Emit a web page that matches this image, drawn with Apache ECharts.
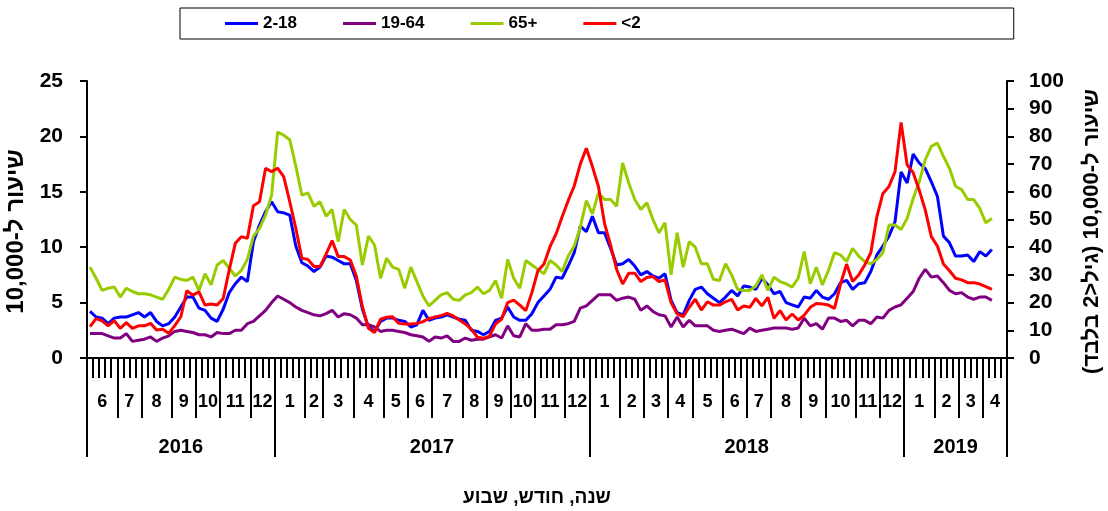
<!DOCTYPE html>
<html>
<head>
<meta charset="utf-8">
<script src="https://cdn.jsdelivr.net/npm/echarts@6.0.0/dist/echarts.min.js"></script>
<style>
  html, body { margin: 0; background: #fff; }
  #chart { width: 1108px; height: 511px; }
</style>
</head>
<body>
<div id="chart"></div>
<script>
const FONT = 'Liberation Sans, Arial, sans-serif'

// x axis: year / month / week
const years = ['2016', '2017', '2018', '2019']
const yearWeeks = [31, 52, 52, 17]
const monthLabels = [6, 7, 8, 9, 10, 11, 12,
  1, 2, 3, 4, 5, 6, 7, 8, 9, 10, 11, 12,
  1, 2, 3, 4, 5, 6, 7, 8, 9, 10, 11, 12,
  1, 2, 3, 4]
const monthWeeks = [5, 4, 5, 4, 4, 5, 4,
  5, 3, 5, 5, 4, 4, 5, 4, 4, 4, 5, 4,
  5, 4, 4, 4, 5, 4, 4, 5, 4, 5, 4, 4,
  5, 4, 4, 4]

const ageGroups = ['2-18', '19-64', '65+', '<2']

// weekly rate per 10,000 (left axis)
const rate2to18 = [
  4.2, 3.7, 3.6, 3.1, 3.6, 3.7, 3.7, 3.9, 4.1, 3.7,
  4.1, 3.3, 2.9, 3.1, 3.7, 4.6, 5.5, 5.5, 4.5, 4.3,
  3.6, 3.3, 4.4, 5.9, 6.7, 7.3, 6.9, 10.5, 12.0, 13.2,
  14.1, 13.2, 13.1, 12.9, 10.1, 8.6, 8.3, 7.8, 8.2, 9.2,
  9.1, 8.8, 8.5, 8.5, 7.0, 4.4, 2.8, 2.4, 3.3, 3.6,
  3.6, 3.4, 3.3, 2.8, 3.0, 4.3, 3.4, 3.6, 3.7, 3.9,
  3.7, 3.5, 3.4, 2.5, 2.4, 2.1, 2.4, 3.4, 3.6, 4.6,
  3.7, 3.4, 3.4, 4.0, 5.0, 5.6, 6.2, 7.3, 7.2, 8.3,
  9.5, 11.9, 11.4, 12.8, 11.3, 11.3, 9.9, 8.4, 8.5, 8.9,
  8.3, 7.5, 7.8, 7.4, 7.2, 7.6, 5.2, 4.1, 3.9, 5.2,
  6.2, 6.4, 5.8, 5.4, 5.0, 5.5, 6.1, 5.6, 6.5, 6.4,
  6.2, 7.2, 6.6, 5.8, 6.0, 5.0, 4.8, 4.6, 5.5, 5.4,
  6.1, 5.5, 5.3, 5.8, 6.8, 7.0, 6.2, 6.7, 6.8, 7.8,
  9.3, 10.1, 11.0, 12.3, 16.8, 15.8, 18.4, 17.6, 17.1, 15.9,
  14.6, 11.0, 10.4, 9.2, 9.2, 9.3, 8.7, 9.6, 9.2, 9.8,
  null, null
]
const rate19to64 = [
  2.2, 2.2, 2.2, 2.0, 1.8, 1.8, 2.2, 1.5, 1.6, 1.7,
  1.9, 1.5, 1.8, 2.0, 2.4, 2.5, 2.4, 2.3, 2.1, 2.1,
  1.9, 2.3, 2.2, 2.2, 2.5, 2.5, 3.1, 3.3, 3.8, 4.3,
  5.0, 5.6, 5.3, 5.0, 4.6, 4.3, 4.1, 3.9, 3.8, 4.0,
  4.3, 3.7, 4.0, 3.9, 3.6, 3.0, 3.0, 2.8, 2.4, 2.5,
  2.5, 2.4, 2.3, 2.1, 2.0, 1.9, 1.5, 1.9, 1.8, 2.0,
  1.5, 1.5, 1.8, 1.6, 1.7, 1.7, 1.9, 2.1, 1.8, 2.9,
  2.0, 1.9, 3.1, 2.5, 2.5, 2.6, 2.6, 3.0, 3.0, 3.1,
  3.3, 4.5, 4.7, 5.2, 5.7, 5.7, 5.7, 5.2, 5.4, 5.5,
  5.3, 4.3, 4.7, 4.2, 3.9, 3.8, 2.8, 3.7, 2.8, 3.4,
  2.9, 2.9, 2.9, 2.5, 2.4, 2.5, 2.6, 2.4, 2.2, 2.7,
  2.4, 2.5, 2.6, 2.7, 2.7, 2.7, 2.6, 2.7, 3.6, 2.9,
  3.1, 2.6, 3.6, 3.6, 3.3, 3.4, 2.9, 3.4, 3.4, 3.1,
  3.7, 3.6, 4.3, 4.6, 4.8, 5.4, 6.0, 7.2, 8.0, 7.3,
  7.4, 6.8, 6.1, 5.8, 5.9, 5.5, 5.3, 5.5, 5.5, 5.2,
  null, null
]
const rate65plus = [
  8.2, 7.2, 6.1, 6.3, 6.4, 5.5, 6.3, 6.0, 5.8, 5.8,
  5.7, 5.5, 5.3, 6.2, 7.3, 7.1, 7.0, 7.3, 6.1, 7.6,
  6.6, 8.4, 8.8, 8.1, 7.4, 7.9, 8.9, 11.0, 11.7, 12.9,
  14.7, 20.4, 20.1, 19.7, 17.3, 14.7, 14.9, 13.7, 14.1, 12.8,
  13.4, 10.5, 13.4, 12.5, 12.0, 8.4, 11.0, 10.2, 7.2, 9.0,
  8.2, 8.0, 6.3, 8.2, 6.9, 5.6, 4.7, 5.2, 5.7, 5.9,
  5.3, 5.2, 5.7, 5.9, 6.4, 5.8, 6.1, 7.0, 5.4, 8.9,
  7.2, 6.3, 8.8, 8.4, 8.0, 7.6, 8.8, 8.4, 7.8, 9.2,
  10.1, 11.8, 14.2, 13.0, 14.9, 14.3, 14.3, 13.7, 17.6, 15.8,
  14.3, 13.4, 14.0, 12.5, 11.3, 12.2, 7.5, 11.3, 8.2, 10.5,
  10.0, 8.5, 8.5, 7.1, 7.0, 8.5, 7.5, 6.2, 6.1, 6.1,
  6.5, 7.5, 6.1, 7.3, 6.9, 6.7, 6.4, 7.2, 9.6, 6.7,
  8.2, 6.6, 7.9, 9.5, 9.3, 8.7, 9.9, 9.2, 8.7, 8.5,
  8.9, 9.5, 12.0, 12.0, 11.6, 12.6, 14.4, 15.9, 17.9, 19.1,
  19.4, 18.2, 17.1, 15.5, 15.2, 14.3, 14.3, 13.5, 12.2, 12.6,
  null, null
]
// under 2: right axis
const rateUnder2 = [
  11.3, 14.2, 13.4, 11.6, 13.5, 10.7, 12.8, 10.7, 11.6, 11.6,
  12.5, 10.1, 10.4, 8.9, 11.7, 14.9, 24.3, 22.7, 23.9, 19.1,
  19.5, 19.1, 21.5, 31.8, 41.4, 43.8, 43.2, 55.0, 56.4, 68.5,
  67.3, 68.5, 65.5, 56.4, 46.8, 36.0, 35.6, 33.0, 33.0, 37.5,
  42.4, 36.6, 36.6, 35.4, 29.6, 18.5, 10.7, 9.2, 14.0, 14.7,
  14.9, 12.5, 12.3, 12.3, 12.5, 13.1, 14.2, 14.8, 15.3, 16.1,
  15.2, 13.7, 12.3, 10.4, 7.5, 7.1, 7.9, 12.3, 14.0, 20.0,
  20.9, 19.1, 17.1, 23.6, 31.5, 33.9, 40.2, 44.8, 51.0, 56.8,
  62.1, 70.0, 75.7, 69.1, 61.9, 48.6, 40.8, 32.0, 26.7, 30.6,
  30.6, 27.6, 29.1, 29.4, 27.6, 28.2, 20.0, 15.9, 14.9, 18.3,
  21.2, 17.3, 20.3, 19.1, 19.1, 20.3, 21.2, 17.3, 18.8, 18.3,
  21.5, 18.8, 21.9, 14.3, 17.1, 13.7, 15.9, 13.7, 15.5, 18.3,
  19.7, 19.5, 19.1, 17.9, 26.7, 33.9, 27.6, 30.0, 33.6, 38.0,
  51.0, 59.4, 61.9, 67.3, 85.0, 69.7, 66.9, 60.6, 53.4, 43.8,
  40.4, 33.9, 31.5, 28.8, 28.2, 27.2, 27.2, 26.7, 25.8, 24.8,
  null, null
]

const colors = ['#0000ff', '#800080', '#99cc00', '#ff0000']

const weekCats = []
monthLabels.forEach((m, k) => {
  for (let w = 1; w <= monthWeeks[k]; w++) weekCats.push(m + '-' + w)
})

// half-week grid so group dividers and centred group labels both fall on a category
function halfAxis (labels, sizes) {
  const cats = new Array(weekCats.length * 2 + 1).fill('')
  const bounds = new Set([0])
  let start = 0
  labels.forEach((lab, k) => {
    cats[start * 2 + sizes[k]] = String(lab)
    start += sizes[k]
    bounds.add(start * 2)
  })
  return { cats, bounds }
}
const monthAxis = halfAxis(monthLabels, monthWeeks)
const yearAxis = halfAxis(years, yearWeeks)

const black = { color: '#000', width: 2 }
const boldText = { color: '#000', fontWeight: 'bold', fontFamily: FONT }

function groupAxis (ax, tickLen, margin, fontSize) {
  return {
    type: 'category',
    data: ax.cats,
    boundaryGap: false,
    position: 'bottom',
    axisLine: { show: false, onZero: false },
    axisTick: { show: true, interval: i => ax.bounds.has(i), length: tickLen, lineStyle: black },
    axisLabel: { ...boldText, fontSize, interval: (i, v) => v !== '', margin },
    splitLine: { show: false }
  }
}

const chart = echarts.init(document.getElementById('chart'))
chart.setOption({
  animation: false,
  color: colors,
  legend: {
    data: ageGroups,
    left: 180,
    top: 8,
    padding: [7, 373, 7, 45],
    borderColor: '#000',
    borderWidth: 1,
    itemGap: 46,
    itemWidth: 33,
    itemHeight: 3,
    icon: 'rect',
    textStyle: { ...boldText, fontSize: 17 }
  },
  grid: { left: 87, right: 101, top: 81, bottom: 153, outerBoundsMode: 'none' },
  xAxis: [
    {
      type: 'category',
      data: weekCats,
      boundaryGap: true,
      axisLine: { show: true, onZero: false, lineStyle: black },
      axisTick: { show: true, interval: 0, length: 20, lineStyle: black },
      axisLabel: { show: false },
      splitLine: { show: false },
      name: 'שנה, חודש, שבוע',
      nameLocation: 'middle',
      nameGap: 130,
      nameTextStyle: { ...boldText, fontSize: 19, padding: [0, 20, 0, 0] }
    },
    groupAxis(monthAxis, 60, 35, 18),
    groupAxis(yearAxis, 99, 79, 20)
  ],
  yAxis: [
    {
      type: 'value',
      min: 0,
      max: 25,
      interval: 5,
      axisLine: { show: true, lineStyle: black },
      axisTick: { show: true, length: 7, lineStyle: black },
      axisLabel: { ...boldText, fontSize: 21, margin: 24 },
      splitLine: { show: false },
      name: 'שיעור ל-10,000',
      nameLocation: 'middle',
      nameRotate: 90,
      nameGap: 56,
      nameTextStyle: { ...boldText, fontSize: 24, padding: [0, 24, 0, 0] }
    },
    {
      type: 'value',
      position: 'right',
      min: 0,
      max: 100,
      interval: 10,
      axisLine: { show: true, lineStyle: black },
      axisTick: { show: true, length: 7, lineStyle: black },
      axisLabel: { ...boldText, fontSize: 21, margin: 22 },
      splitLine: { show: false },
      name: '\u200Fשיעור ל-10,000 (גיל<2 בלבד)\u200F',
      nameLocation: 'middle',
      nameRotate: 90,
      nameGap: 74,
      nameTextStyle: { ...boldText, fontSize: 22, padding: [0, 24, 0, 0] }
    }
  ],
  series: [rate2to18, rate19to64, rate65plus, rateUnder2].map((d, k) => ({
    name: ageGroups[k],
    type: 'line',
    yAxisIndex: k === 3 ? 1 : 0,
    data: d,
    symbol: 'none',
    showSymbol: false,
    lineStyle: { width: 3, color: colors[k] },
    itemStyle: { color: colors[k] }
  }))
})
</script>
</body>
</html>
